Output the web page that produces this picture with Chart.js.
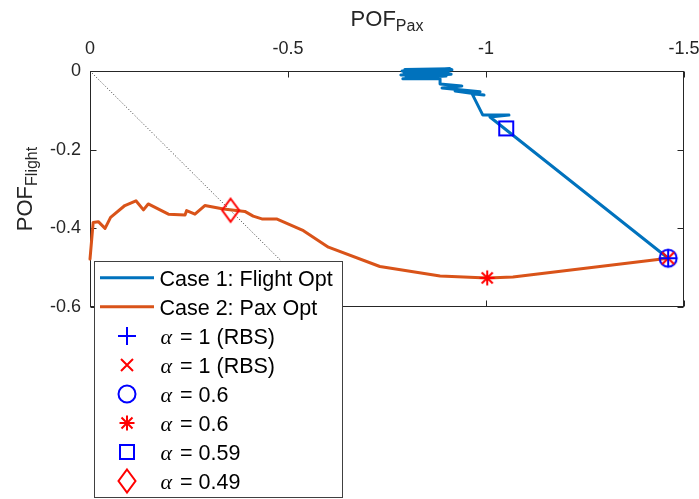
<!DOCTYPE html>
<html>
<head>
<meta charset="utf-8">
<script src="https://cdn.jsdelivr.net/npm/chart.js@4.4.1/dist/chart.umd.min.js"></script>
<style>
  html, body { margin: 0; padding: 0; background: #fff; }
  #wrap { width: 699px; height: 499px; }
</style>
</head>
<body>
<div id="wrap"><canvas id="c" width="699" height="499"></canvas></div>
<script>
// Axis ticks
const paxTicks = [0, -0.5, -1, -1.5];
const flightTicks = [0, -0.2, -0.4, -0.6];

// Series names
const seriesLabels = ['Case 1: Flight Opt', 'Case 2: Pax Opt'];

// Case 1: flight-optimal path (POF_Pax, POF_Flight)
const case1Pax = [-1.460, -1.010, -1.058, -0.992, -0.965, -0.995, -0.922, -0.985, -0.889, -0.939,
                  -0.884, -0.884, -0.790, -0.899, -0.798, -0.912, -0.785, -0.904, -0.793, -0.914,
                  -0.788, -0.909, -0.795, -0.905, -0.800];
const case1Flight = [-0.476, -0.117, -0.112, -0.112, -0.058, -0.061, -0.051, -0.053, -0.043, -0.038,
                     -0.033, -0.020, -0.020, -0.013, -0.015, -0.008, -0.010, -0.003, -0.005, 0.003,
                     0.000, 0.006, 0.004, -0.001, 0.002];

// Case 2: passenger-optimal path
const case2Pax = [0, -0.008, -0.021, -0.038, -0.052, -0.088, -0.116, -0.135, -0.147, -0.198,
                  -0.240, -0.244, -0.265, -0.290, -0.337, -0.391, -0.412, -0.434, -0.471, -0.539,
                  -0.602, -0.732, -0.884, -1.003, -1.068, -1.460];
const case2Flight = [-0.478, -0.385, -0.383, -0.400, -0.372, -0.342, -0.330, -0.353, -0.338, -0.364,
                     -0.366, -0.355, -0.364, -0.342, -0.351, -0.357, -0.369, -0.376, -0.376, -0.406,
                     -0.448, -0.497, -0.521, -0.526, -0.524, -0.476];

// Equal-POF reference diagonal
const diagPax = [0, -0.6];
const diagFlight = [0, -0.6];

// Highlighted alpha points
const markerAlpha = ['1 (RBS)', '1 (RBS)', '0.6', '0.6', '0.59', '0.49'];
const markerPax = [-1.460, -1.460, -1.460, -1.003, -1.051, -0.355];
const markerFlight = [-0.476, -0.476, -0.476, -0.526, -0.146, -0.354];
const markerKinds = ['plus', 'cross', 'circle', 'asterisk', 'square', 'diamond'];
const markerColors = ['#0000ff', '#ff0000', '#0000ff', '#ff0000', '#0000ff', '#ff0000'];

const AXIS = '#262626';
const SANS = '"Liberation Sans", Arial, Helvetica, sans-serif';
const SERIF = '"Liberation Serif", "Times New Roman", serif';

// Small marker glyphs used as point styles and in the legend
function markerCanvas(kind, color) {
  const c = document.createElement('canvas');
  c.width = 28; c.height = 30;
  const g = c.getContext('2d');
  const cx = 14, cy = 15;
  g.strokeStyle = color;
  g.lineWidth = 2;
  g.beginPath();
  if (kind === 'plus') {
    g.moveTo(cx - 9, cy); g.lineTo(cx + 9, cy);
    g.moveTo(cx, cy - 9); g.lineTo(cx, cy + 9);
  } else if (kind === 'cross') {
    g.moveTo(cx - 6, cy - 6); g.lineTo(cx + 6, cy + 6);
    g.moveTo(cx + 6, cy - 6); g.lineTo(cx - 6, cy + 6);
  } else if (kind === 'circle') {
    g.arc(cx, cy, 8.5, 0, Math.PI * 2);
  } else if (kind === 'asterisk') {
    g.moveTo(cx - 7.5, cy); g.lineTo(cx + 7.5, cy);
    g.moveTo(cx, cy - 7.5); g.lineTo(cx, cy + 7.5);
    g.moveTo(cx - 5.5, cy - 5.5); g.lineTo(cx + 5.5, cy + 5.5);
    g.moveTo(cx + 5.5, cy - 5.5); g.lineTo(cx - 5.5, cy + 5.5);
  } else if (kind === 'square') {
    g.rect(cx - 7, cy - 7, 14, 14);
  } else if (kind === 'diamond') {
    g.moveTo(cx, cy - 11.5); g.lineTo(cx + 8.5, cy);
    g.lineTo(cx, cy + 11.5); g.lineTo(cx - 8.5, cy); g.closePath();
  }
  g.stroke();
  return c;
}

const toPts = (xs, ys) => xs.map((x, i) => ({ x: x, y: ys[i] }));

const datasets = [];
markerKinds.forEach((k, i) => {
  datasets.push({
    label: 'α = ' + markerAlpha[i],
    kind: 'marker',
    data: [{ x: markerPax[i], y: markerFlight[i] }],
    pointStyle: markerCanvas(k, markerColors[i]),
    pointRadius: 9,
    showLine: false,
    order: 0,
    clip: false
  });
});
datasets.push({
  label: seriesLabels[1], kind: 'line',
  data: toPts(case2Pax, case2Flight),
  showLine: true, borderColor: '#D95319', borderWidth: 3,
  pointRadius: 0, tension: 0, order: 1, clip: false,
  borderJoinStyle: 'round', borderCapStyle: 'round'
});
datasets.push({
  label: seriesLabels[0], kind: 'line',
  data: toPts(case1Pax, case1Flight),
  showLine: true, borderColor: '#0072BD', borderWidth: 3,
  pointRadius: 0, tension: 0, order: 2, clip: false,
  borderJoinStyle: 'round', borderCapStyle: 'round'
});
datasets.push({
  label: 'diag', kind: 'ref',
  data: toPts(diagPax, diagFlight),
  showLine: true, borderColor: '#333333', borderWidth: 1, borderDash: [1, 2],
  pointRadius: 0, order: 3
});

// Closed axes box with inward ticks on all four sides
const boxPlugin = {
  id: 'boxAxes',
  beforeDatasetsDraw(chart) {
    const { ctx, chartArea: a, scales } = chart;
    const L = Math.round(a.left) + 0.5, R = Math.round(a.right) - 0.5;
    const T = Math.round(a.top) + 0.5, B = Math.round(a.bottom) - 0.5;
    ctx.save();
    ctx.strokeStyle = AXIS;
    ctx.lineWidth = 1;
    ctx.strokeRect(L, T, R - L, B - T);
    ctx.beginPath();
    paxTicks.forEach(v => {
      const px = Math.round(scales.x.getPixelForValue(v)) + 0.5;
      ctx.moveTo(px, T); ctx.lineTo(px, T + 6);
      ctx.moveTo(px, B); ctx.lineTo(px, B - 6);
    });
    flightTicks.forEach(v => {
      const py = Math.round(scales.y.getPixelForValue(v)) + 0.5;
      ctx.moveTo(L, py); ctx.lineTo(L + 6, py);
      ctx.moveTo(R, py); ctx.lineTo(R - 6, py);
    });
    ctx.stroke();
    ctx.restore();
  }
};

// Axis titles with subscripts
function drawSubLabel(ctx, main, sub, cx, baseY) {
  ctx.font = '22px ' + SANS;
  const w1 = ctx.measureText(main).width;
  ctx.font = '16px ' + SANS;
  const w2 = ctx.measureText(sub).width;
  const x0 = cx - (w1 + w2) / 2;
  ctx.textAlign = 'left';
  ctx.textBaseline = 'alphabetic';
  ctx.font = '22px ' + SANS;
  ctx.fillText(main, x0, baseY);
  ctx.font = '16px ' + SANS;
  ctx.fillText(sub, x0 + w1, baseY + 5);
}
const titlePlugin = {
  id: 'subTitles',
  afterDraw(chart) {
    const { ctx, chartArea: a } = chart;
    ctx.save();
    ctx.fillStyle = AXIS;
    drawSubLabel(ctx, 'POF', 'Pax', (a.left + a.right) / 2, 26);
    ctx.translate(32, (a.top + a.bottom) / 2);
    ctx.rotate(-Math.PI / 2);
    drawSubLabel(ctx, 'POF', 'Flight', 0, 0);
    ctx.restore();
  }
};

// Boxed legend overlapping the lower-left of the axes
const legendPlugin = {
  id: 'boxLegend',
  afterDraw(chart) {
    const { ctx } = chart;
    const ds = chart.data.datasets;
    const lines = [ds.find(d => d.label === seriesLabels[0]), ds.find(d => d.label === seriesLabels[1])];
    const marks = ds.filter(d => d.kind === 'marker');
    const bx = 94.5, by = 261.5, bw = 248, bh = 236;
    ctx.save();
    ctx.fillStyle = '#ffffff';
    ctx.fillRect(bx, by, bw, bh);
    ctx.strokeStyle = '#404040';
    ctx.lineWidth = 1;
    ctx.strokeRect(bx, by, bw, bh);
    const row0 = 277.7, step = 29.1, textX = 159.5;
    ctx.fillStyle = '#000000';
    ctx.textBaseline = 'alphabetic';
    ctx.textAlign = 'left';
    lines.forEach((d, i) => {
      const y = row0 + step * i;
      ctx.strokeStyle = d.borderColor;
      ctx.lineWidth = 3;
      ctx.beginPath();
      ctx.moveTo(100, y); ctx.lineTo(154, y);
      ctx.stroke();
      ctx.font = '21.5px ' + SANS;
      ctx.fillText(d.label, textX, y + 7.8);
    });
    marks.forEach((d, i) => {
      const y = row0 + step * (i + 2);
      const img = d.pointStyle;
      ctx.drawImage(img, Math.round(127 - img.width / 2), Math.round(y - img.height / 2));
      const parts = d.label.split(' = ');
      ctx.font = 'italic 22px ' + SERIF;
      ctx.fillText('α', textX + 1, y + 7.8);
      const wa = ctx.measureText('α').width;
      ctx.font = '21.5px ' + SANS;
      ctx.fillText(' = ' + parts[1], textX + 1 + wa + 2, y + 7.8);
    });
    ctx.restore();
  }
};

new Chart(document.getElementById('c'), {
  type: 'scatter',
  data: { datasets: datasets },
  options: {
    responsive: false,
    animation: false,
    events: [],
    devicePixelRatio: 1,
    layout: { padding: { left: 0, right: 15, top: 0, bottom: 192 } },
    plugins: { legend: { display: false }, tooltip: { enabled: false } },
    scales: {
      x: {
        type: 'linear', position: 'top', min: -1.5, max: 0, reverse: true,
        afterFit: s => { s.height = 71; s.paddingLeft = 0; s.paddingRight = 0; },
        afterBuildTicks: s => { s.ticks = paxTicks.map(v => ({ value: v })); },
        grid: { display: false, drawTicks: false },
        border: { display: false },
        ticks: { padding: 11, color: AXIS, font: { family: SANS, size: 18 }, callback: v => String(v), maxRotation: 0 }
      },
      y: {
        type: 'linear', position: 'left', min: -0.6, max: 0,
        afterFit: s => { s.width = 90; s.paddingTop = 0; s.paddingBottom = 0; },
        afterBuildTicks: s => { s.ticks = flightTicks.map(v => ({ value: v })); },
        grid: { display: false, drawTicks: false },
        border: { display: false },
        ticks: { padding: 9, color: AXIS, font: { family: SANS, size: 18 }, callback: v => String(v) }
      }
    }
  },
  plugins: [boxPlugin, titlePlugin, legendPlugin]
});
</script>
</body>
</html>
